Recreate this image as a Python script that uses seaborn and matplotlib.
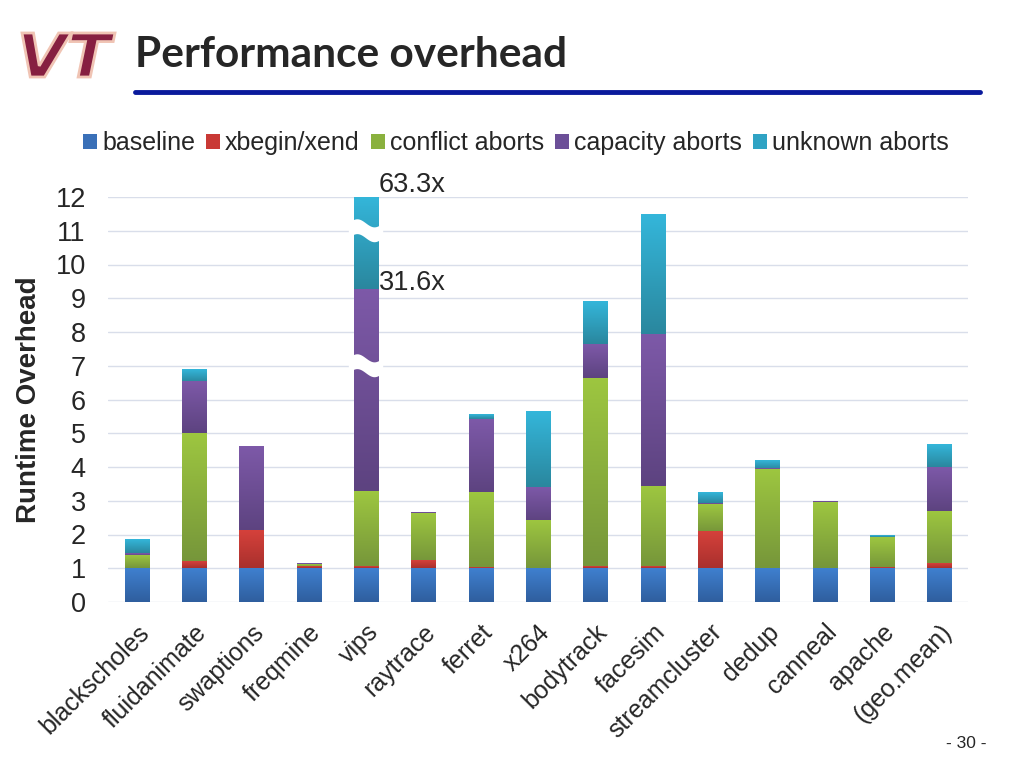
import numpy as np
import matplotlib
matplotlib.use("Agg")
import matplotlib.pyplot as plt
from matplotlib.patches import Patch, Polygon, PathPatch
from matplotlib.textpath import TextPath
from matplotlib.font_manager import FontProperties
from matplotlib.transforms import Affine2D, IdentityTransform
from matplotlib.colors import to_rgb
import seaborn as sns

# benchmarks and overhead breakdown (segment heights)
benchmarks = ["blackscholes", "fluidanimate", "swaptions", "freqmine", "vips",
              "raytrace", "ferret", "x264", "bodytrack", "facesim",
              "streamcluster", "dedup", "canneal", "apache", "(geo.mean)"]
baseline = [1.0] * 15
xbegin_xend = [0.0, 0.18, 1.11, 0.04, 0.05, 0.21, 0.01, 0.0, 0.05, 0.05, 1.08, 0.0, 0.0, 0.02, 0.13]
conflict_aborts = [0.37, 3.82, 0.0, 0.07, 2.24, 1.42, 2.25, 1.40, 5.58, 2.38, 0.82, 2.91, 1.95, 0.89, 1.57]
capacity_aborts = [0.07, 1.53, 2.51, 0.04, 5.98, 0.02, 2.15, 1.00, 1.00, 4.49, 0.02, 0.03, 0.02, 0.01, 1.29]
unknown_aborts = [0.40, 0.37, 0.0, 0.0, 2.73, 0.02, 0.12, 2.23, 1.25, 3.56, 0.30, 0.24, 0.0, 0.04, 0.66]

layer_names = ["baseline", "xbegin/xend", "conflict aborts", "capacity aborts", "unknown aborts"]
layer_colors = ["#3A70B8", "#C93935", "#8AB13E", "#6C4F98", "#2FA3C4"]
# top / bottom shades for the slide's gradient fill
grad_top = ["#3F80CF", "#D5413B", "#9DC640", "#7D59A8", "#34B6DA"]
grad_bottom = ["#2F5E9E", "#A9302D", "#76963A", "#5D4380", "#2A879E"]

# vips bar is broken: real values written next to it
vips_labels = ["63.3x", "31.6x"]
vips_label_y = [12.35, 9.45]
break_y = [7.0, 11.0]

sns.set_theme(style="white")
plt.rcParams["font.family"] = ["Liberation Sans", "DejaVu Sans"]

fig = plt.figure(figsize=(10.24, 7.68), dpi=100)
ax = fig.add_axes([108 / 1024, 1 - 602 / 768, 860 / 1024, 405 / 768])

layers = np.array([baseline, xbegin_xend, conflict_aborts, capacity_aborts, unknown_aborts])
tops = np.cumsum(layers, axis=0)
bottoms = np.vstack([np.zeros(len(benchmarks)), tops[:-1]])

# stacked bars: draw cumulative totals from the top layer down
for i in range(len(layer_names) - 1, -1, -1):
    n_before = len(ax.patches)
    sns.barplot(x=benchmarks, y=tops[i], color=layer_colors[i], width=0.42,
                saturation=1, linewidth=0, ax=ax, zorder=3)
    # shade the visible part of each new bar with a vertical gradient
    grad = np.linspace(to_rgb(grad_bottom[i]), to_rgb(grad_top[i]), 64)[:, None, :]
    for j, p in enumerate(ax.patches[n_before:]):
        if tops[i][j] - bottoms[i][j] <= 0:
            continue
        ax.imshow(grad, origin="lower", aspect="auto", interpolation="bilinear",
                  extent=(p.get_x(), p.get_x() + p.get_width(), bottoms[i][j], tops[i][j]),
                  zorder=4)

# axis break marks on vips
vips_idx = benchmarks.index("vips")
xs = np.linspace(vips_idx - 0.3, vips_idx + 0.3, 40)
for yb in break_y:
    wave = 0.12 * np.sin((xs - xs[0]) / (xs[-1] - xs[0]) * 2 * np.pi)
    upper = yb + 0.22 + wave
    lower = yb - 0.22 + wave
    pts = np.column_stack([np.r_[xs, xs[::-1]], np.r_[upper, lower[::-1]]])
    ax.add_patch(Polygon(pts, closed=True, facecolor="white", edgecolor="none", zorder=5))

for lbl, yv in zip(vips_labels, vips_label_y):
    ax.text(vips_idx + 0.22, yv, lbl, fontsize=19.5, va="center", ha="left", zorder=6,
            clip_on=False)

ax.set_ylim(0, 12)
ax.set_xlim(-0.5, len(benchmarks) - 0.5)
ax.set_yticks(range(0, 13))
ax.yaxis.grid(True, color="#D9DEEA", linewidth=1.0, zorder=0)
ax.set_axisbelow(True)
for s in ax.spines.values():
    s.set_visible(False)
ax.tick_params(axis="y", length=0, pad=16, labelsize=19.5)
ax.tick_params(axis="x", length=0, pad=13, labelsize=18)
plt.setp(ax.get_xticklabels(), rotation=45, ha="right", rotation_mode="anchor")
ax.set_xlabel("")
ax.set_ylabel("Runtime Overhead", fontsize=20, fontweight="bold", labelpad=10)

handles = [Patch(facecolor=c, edgecolor="none") for c in layer_colors]
fig.legend(handles, layer_names, loc="center", bbox_to_anchor=(516 / 1024, 1 - 143 / 768),
           ncol=5, frameon=False, fontsize=18, handlelength=0.55, handleheight=0.55,
           handletextpad=0.2, columnspacing=0.45)

# slide decoration
fig.text(135 / 1024, 1 - 55 / 768, "Performance overhead", fontsize=30.5, fontweight="bold",
         family=["Lato", "DejaVu Sans"], va="center", ha="left")
fig.add_artist(plt.Line2D([135 / 1024, 980 / 1024], [1 - 92 / 768, 1 - 92 / 768],
                          color="#0A1A9C", linewidth=3.5))

# VT logo, stretched into its box (pixels 22..115 x 33..77)
logo = TextPath((0, 0), "VT", size=10,
                prop=FontProperties(family="DejaVu Sans", weight="bold", style="italic"))
ext = logo.get_extents()
sx = (115 - 22) / ext.width
sy = (77 - 33) / ext.height
logo_tf = Affine2D().translate(-ext.x0, -ext.y0).scale(sx, sy).translate(22, 768 - 77)
fig.add_artist(PathPatch(logo_tf.transform_path(logo), facecolor="#861F41",
                         edgecolor="#F0C4B4", linewidth=2.0, transform=IdentityTransform()))

fig.text(966 / 1024, 1 - 743 / 768, "- 30 -", fontsize=12.5, ha="center", va="center")

fig.savefig("out.png", dpi=100)
